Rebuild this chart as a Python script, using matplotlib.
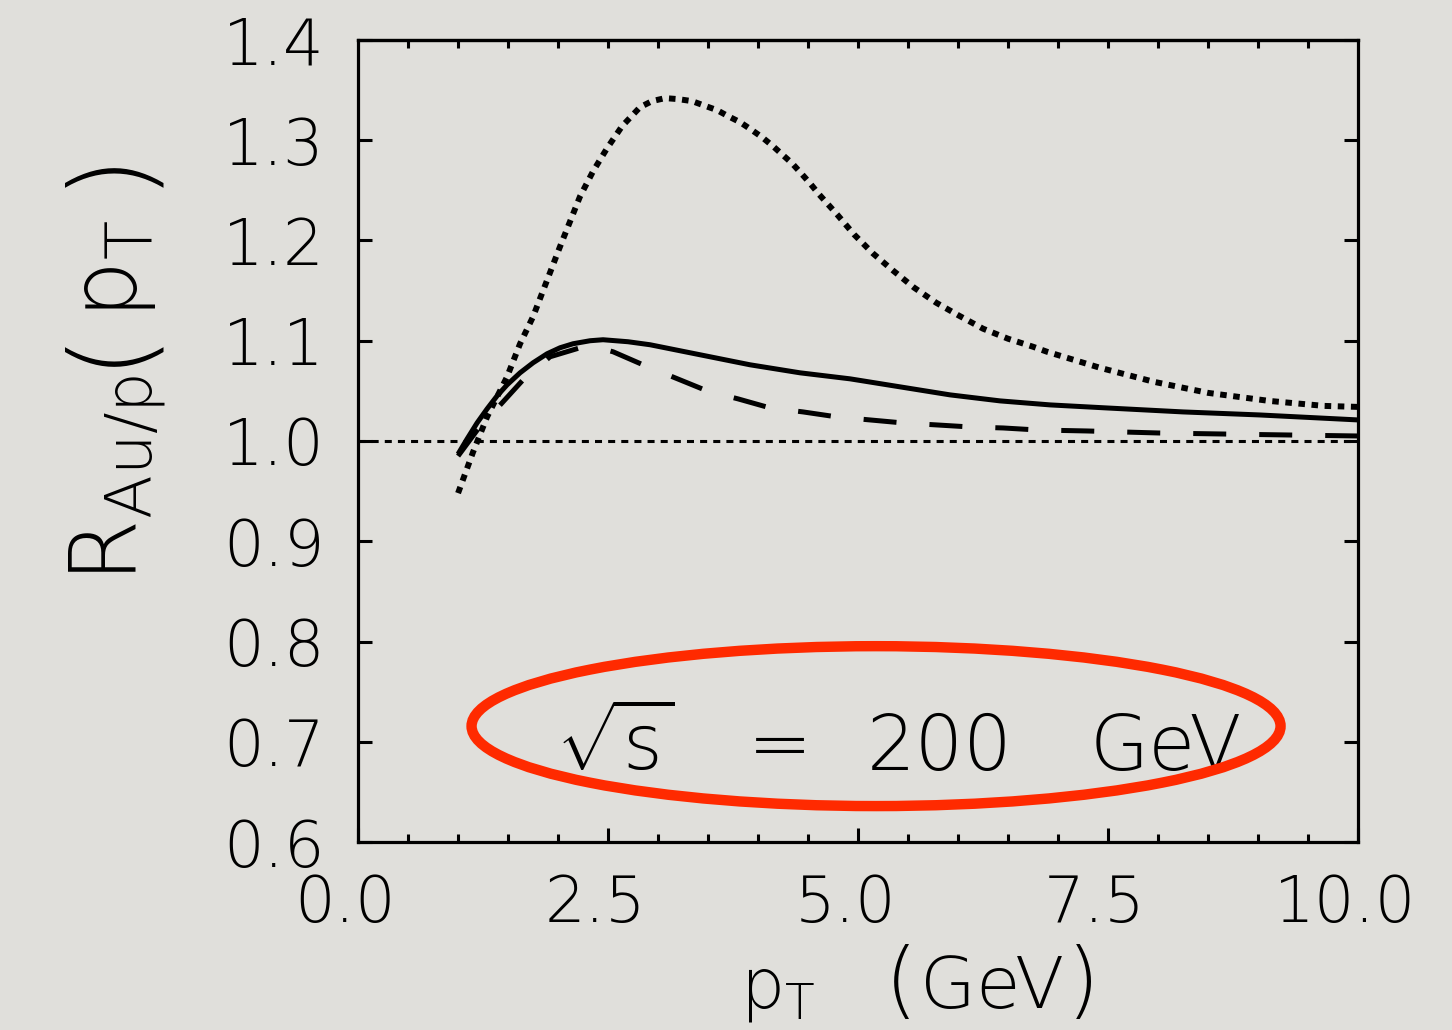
import numpy as np
import matplotlib
matplotlib.use("Agg")
import matplotlib.pyplot as plt
from matplotlib.patches import Ellipse
from matplotlib.transforms import ScaledTranslation

# R_Au/p(pT) at sqrt(s) = 200 GeV, three model curves
pt_solid = [1.0, 1.09, 1.19, 1.29, 1.39, 1.49, 1.62, 1.75, 1.89, 2.02, 2.15, 2.32,
            2.45, 2.7, 2.92, 3.17, 3.42, 3.67, 3.92, 4.17, 4.42, 4.67, 4.92, 5.17,
            5.42, 5.67, 5.92, 6.17, 6.42, 6.67, 6.92, 7.48, 8.25, 9.01, 10.0]
r_solid = [0.987, 1.002, 1.018, 1.032, 1.045, 1.056, 1.068, 1.078, 1.087, 1.093,
           1.097, 1.100, 1.101, 1.099, 1.096, 1.091, 1.086, 1.081, 1.076, 1.072,
           1.068, 1.065, 1.062, 1.058, 1.054, 1.050, 1.046, 1.043, 1.040, 1.038,
           1.036, 1.033, 1.029, 1.026, 1.021]

pt_dashed = [1.0, 1.2, 1.44, 1.65, 1.92, 2.22, 2.4, 2.55, 2.85, 3.17, 3.49, 3.8,
             4.12, 4.45, 4.79, 5.12, 5.45, 5.79, 6.12, 6.45, 6.79, 7.29, 8.0,
             8.63, 9.3, 10.0]
r_dashed = [0.985, 1.012, 1.038, 1.061, 1.084, 1.093, 1.093, 1.089, 1.076, 1.063,
            1.050, 1.042, 1.033, 1.029, 1.024, 1.021, 1.018, 1.016, 1.014, 1.013,
            1.011, 1.010, 1.008, 1.007, 1.006, 1.005]

pt_dotted = [1.0, 1.15, 1.29, 1.49, 1.62, 1.75, 2.02, 2.22, 2.35, 2.49, 2.64, 2.82,
             2.94, 3.07, 3.2, 3.34, 3.45, 3.59, 3.7, 3.82, 3.94, 4.04, 4.15, 4.25,
             4.34, 4.44, 4.52, 4.61, 4.7, 4.79, 4.96, 5.15, 5.35, 5.56, 5.78, 6.01,
             6.25, 6.5, 6.75, 6.89, 7.42, 7.96, 8.5, 9.11, 9.66, 10.0]
r_dotted = [0.948, 0.989, 1.024, 1.064, 1.097, 1.124, 1.194, 1.244, 1.269, 1.292,
            1.314, 1.333, 1.339, 1.342, 1.341, 1.339, 1.335, 1.330, 1.324, 1.318,
            1.310, 1.303, 1.294, 1.285, 1.277, 1.266, 1.257, 1.246, 1.236, 1.226,
            1.206, 1.187, 1.170, 1.153, 1.138, 1.125, 1.112, 1.102, 1.094, 1.089,
            1.073, 1.059, 1.048, 1.040, 1.035, 1.034]

x_ticks = [0.0, 2.5, 5.0, 7.5, 10.0]
x_ticklabels = ["0.0", "2.5", "5.0", "7.5", "10.0"]
y_ticks = [0.6, 0.7, 0.8, 0.9, 1.0, 1.1, 1.2, 1.3, 1.4]
y_ticklabels = ["0.6", "0.7", "0.8", "0.9", "1.0", "1.1", "1.2", "1.3", "1.4"]

# axis titles, split so the brackets can be set larger than the letters
ylabel_parts = [r"$\mathregular{R_{Au/p}}$", "(", r"$\mathregular{p_T}$", ")"]
xlabel_parts = [r"$\mathregular{p_T}$", "(", "GeV", ")"]
# energy annotation words and their left edges in pT units
energy_parts = [r"$\sqrt{\mathregular{s}}$", "=", "200", "GeV"]
energy_x = [1.98, 3.90, 5.09, 7.32]

bg = "#e0dfdb"
plt.rcParams["font.family"] = ["DejaVu Sans"]
plt.rcParams["font.weight"] = "light"
plt.rcParams["axes.labelweight"] = "light"
plt.rcParams["mathtext.fontset"] = "custom"
plt.rcParams["mathtext.rm"] = "DejaVu Sans:light"
plt.rcParams["mathtext.it"] = "DejaVu Sans:light"
plt.rcParams["mathtext.sf"] = "DejaVu Sans:light"

W, H = 1452, 1030
fig = plt.figure(figsize=(W / 100, H / 100), dpi=100, facecolor=bg)
ax = fig.add_axes([0.2466, 0.1825, 0.6887, 0.7787], facecolor=bg)

ax.plot([0, 10], [1.0, 1.0], color="black", lw=2.2, dashes=(2.3, 2.0),
        dash_capstyle="butt")
ax.plot(pt_solid, r_solid, color="black", lw=3.6, solid_capstyle="butt",
        solid_joinstyle="round")
ax.plot(pt_dashed, r_dashed, color="black", lw=3.6, dashes=(6.6, 6.6),
        dash_capstyle="butt")
ax.plot(pt_dotted, r_dotted, color="black", lw=4.3, dashes=(1.1, 1.1),
        dash_capstyle="butt")

ax.set_xlim(0, 10)
ax.set_ylim(0.6, 1.4)
ax.set_xticks(x_ticks)
ax.set_xticklabels(x_ticklabels)
ax.set_xticks(np.arange(0, 10.01, 0.5), minor=True)
ax.set_yticks(y_ticks)
ax.set_yticklabels(y_ticklabels)

for s in ax.spines.values():
    s.set_linewidth(2.3)
ax.tick_params(axis="x", which="major", direction="in", length=10, width=2.2,
               labelsize=46, pad=22, top=False)
ax.tick_params(axis="x", which="minor", direction="in", length=6, width=2.2,
               top=False)
ax.tick_params(axis="y", which="major", direction="in", length=10, width=2.2,
               labelsize=46, pad=24, right=True)
shift = ScaledTranslation(-13 / 100, 0, fig.dpi_scale_trans)
for lab in ax.get_xticklabels():
    lab.set_transform(lab.get_transform() + shift)

top = ax.secondary_xaxis("top")
top.set_xticks(np.arange(0.5, 10, 0.5))
top.set_xticklabels([])
top.tick_params(direction="in", length=6, width=2.2)
top.spines["top"].set_linewidth(2.3)

# y-axis title, read bottom to top
y_sizes = [66, 80, 66, 80]
y_gaps = [0, 6, 3, 24]
x_base = 137 / W
prev = fig.text(x_base, (H - 583) / H, ylabel_parts[0], fontsize=y_sizes[0],
                rotation=90, rotation_mode="anchor", ha="left", va="baseline")
for part, fs, gap in zip(ylabel_parts[1:], y_sizes[1:], y_gaps[1:]):
    prev = ax.annotate(part, xy=(x_base, 1.0),
                       xycoords=("figure fraction", prev),
                       xytext=(0, gap), textcoords="offset points",
                       fontsize=fs, rotation=90, rotation_mode="anchor",
                       ha="left", va="baseline", annotation_clip=False)

# x-axis title
x_sizes = [50, 60, 52, 60]
x_gaps = [0, 50, 2, 2]
y_base = (H - 1008) / H
prev = fig.text(740 / W, y_base, xlabel_parts[0], fontsize=x_sizes[0],
                ha="left", va="baseline")
for part, fs, gap in zip(xlabel_parts[1:], x_sizes[1:], x_gaps[1:]):
    prev = ax.annotate(part, xy=(1.0, y_base),
                       xycoords=(prev, "figure fraction"),
                       xytext=(gap, 0), textcoords="offset points",
                       fontsize=fs, ha="left", va="baseline",
                       annotation_clip=False)

for part, xp in zip(energy_parts, energy_x):
    ax.text(xp, 0.672, part, fontsize=55, ha="left", va="baseline")
ax.add_patch(Ellipse((5.18, 0.7156), 8.09, 0.1595, fill=False,
                     edgecolor="#ff2a00", lw=7.5, zorder=5))

fig.savefig("out.png", dpi=100, facecolor=bg)
